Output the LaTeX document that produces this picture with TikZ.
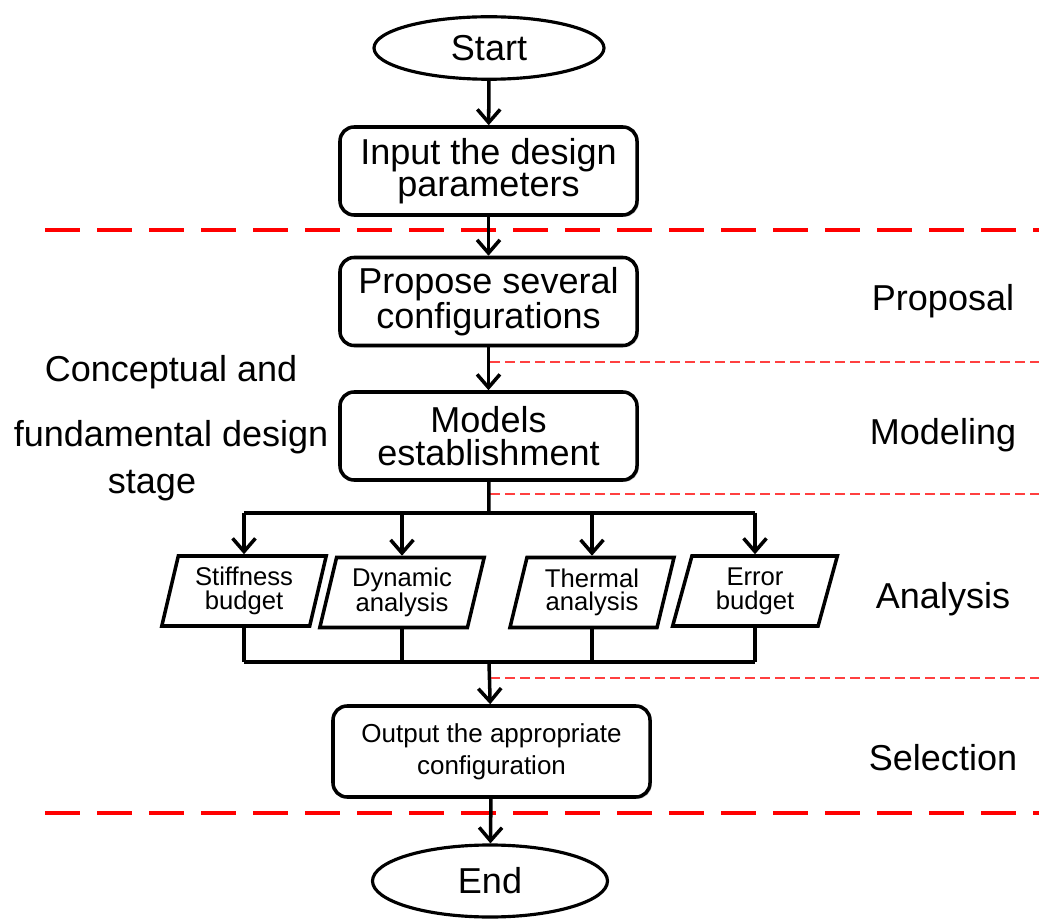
\documentclass[tikz,border=0pt]{standalone}
\usepackage{fontspec}
\setmainfont{Liberation Sans}
\usepackage{xcolor}
\usepackage{tikz}
\usetikzlibrary{shapes.geometric, arrows.meta, positioning, shadows}
\tikzset{
  procbox/.style={rectangle, rounded corners=8pt, draw=black, line width=2pt,
                  fill=white, minimum width=5.94cm, minimum height=1.76cm, align=center,
                  drop shadow={shadow xshift=1pt, shadow yshift=-1pt, fill=black!35, opacity=0.6},
                  font=\fontsize{20.5}{18.5}\selectfont},
  termbox/.style={ellipse, draw=black, line width=1.8pt, fill=white,
                  minimum width=4.6cm, minimum height=1.25cm,
                  font=\fontsize{20.5}{24}\selectfont},
  databox/.style={trapezium, trapezium left angle=76, trapezium right angle=104,
                  trapezium stretches=true, draw=black, line width=2pt, fill=white,
                  minimum width=3.3cm, minimum height=1.4cm, inner sep=1pt, align=center,
                  font=\fontsize{14.6}{13.5}\selectfont},
  arrow/.style={-{Straight Barb[length=7.5pt,width=13pt]}, line width=2pt},
  line/.style={line width=2pt},
  sepline/.style={red, line width=2.3pt, dash pattern=on 0.7cm off 0.34cm},
  subline/.style={red!75, line width=0.7pt, dash pattern=on 0.2cm off 0.1cm},
  stagelabel/.style={font=\fontsize{20.5}{24}\selectfont},
}
\begin{document}
\begin{tikzpicture}
  \useasboundingbox (0,0) rectangle (20.78,-18.4);
  % stage separators
  \draw[sepline] (0.9,-4.6) -- (20.78,-4.6);
  \draw[sepline] (0.9,-16.26) -- (20.78,-16.26);
  \draw[subline] (9.8,-7.24) -- (20.78,-7.24);
  \draw[subline] (9.8,-9.88) -- (20.78,-9.88);
  \draw[subline] (9.8,-13.56) -- (20.78,-13.56);

  \node[termbox] (start) at (9.78,-0.96) {Start};
  \node[procbox] (input) at (9.77,-3.42) {Input the design\\parameters};
  \node[procbox] (propose) at (9.77,-6.03) {Propose several\\configurations};
  \node[procbox] (models) at (9.77,-8.72) {Models\\establishment};
  \coordinate (split) at (9.78,-10.26);
  \node[databox] (stiff) at (4.88,-11.82) {Stiffness\\budget};
  \node[databox] (dyn) at (8.04,-11.85) {Dynamic\\analysis};
  \node[databox] (therm) at (11.84,-11.85) {Thermal\\analysis};
  \node[databox] (err) at (15.1,-11.82) {Error\\budget};
  \coordinate (merge) at (9.78,-13.24);
  \node[procbox, minimum width=6.34cm, minimum height=1.82cm,
        font=\fontsize{14.8}{18}\selectfont] (output) at (9.83,-15.03)
        {Output the appropriate\\configuration};
  \node[termbox, minimum width=4.7cm, minimum height=1.44cm] (stop) at (9.8,-17.62) {End};

  \draw[arrow] (start) -- (input);
  \draw[arrow] (input) -- (propose);
  \draw[arrow] (propose) -- (models);
  \draw[line] (models) -- (split);
  \draw[line] (stiff.north |- split) -- (err.north |- split);
  \draw[line] (stiff.south |- merge) -- (err.south |- merge);
  \foreach \n in {stiff, dyn, therm, err} {
    \draw[arrow] (\n.north |- split) -- (\n.north);
    \draw[line] (\n.south) -- (\n.south |- merge);
  }
  \draw[arrow] (merge) -- (output);
  \draw[arrow] (output) -- (stop);

  % stage labels
  \node[stagelabel, align=center, font=\fontsize{20.5}{27}\selectfont] (phase) at (3.42,-8.56)
    {Conceptual and\\[10pt]fundamental design\\stage\hspace*{0.76cm}};
  \node[stagelabel] (proposal) at (18.86,-6.02) {Proposal};
  \node[stagelabel] (modeling) at (18.86,-8.7) {Modeling};
  \node[stagelabel] (analysis) at (18.86,-11.98) {Analysis};
  \node[stagelabel] (selection) at (18.86,-15.16) {Selection};
\end{tikzpicture}
\end{document}
